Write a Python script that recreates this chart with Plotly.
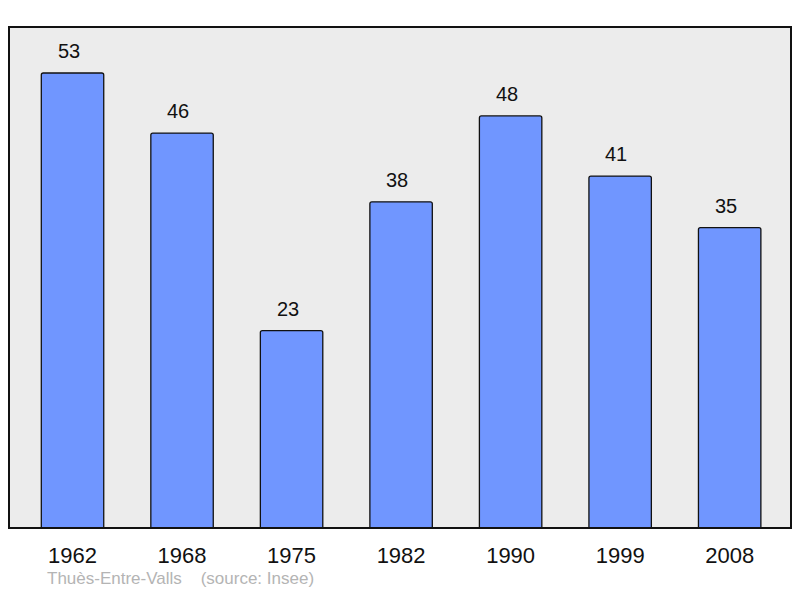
import plotly.graph_objects as go

years = ["1962", "1968", "1975", "1982", "1990", "1999", "2008"]
population = [53, 46, 23, 38, 48, 41, 35]
footer = "Thuès-Entre-Valls\u00a0\u00a0\u00a0\u00a0(source: Insee)"

fig = go.Figure()
fig.add_trace(go.Bar(
    x=list(range(len(years))), y=population,
    width=0.57,
    marker=dict(color="#7096ff", line=dict(color="#111111", width=1.3), cornerradius=2),
    hoverinfo="skip",
))
for i, v in enumerate(population):
    fig.add_annotation(x=i, y=v, text=str(v), showarrow=False, yanchor="bottom",
                       yshift=9, xshift=-4, font=dict(size=20, color="#111111"))

fig.add_annotation(xref="paper", yref="paper", x=0.046, y=-62 / 501, xanchor="left", yanchor="bottom",
                   text=footer, showarrow=False, font=dict(size=17, color="#b4b4b4"))

fig.add_shape(type="rect", xref="paper", yref="paper", x0=0, x1=1, y0=0, y1=1,
              line=dict(color="#111111", width=2), layer="above")

fig.update_layout(
    width=784, height=582,
    margin=dict(l=1, r=1, t=19, b=62),
    paper_bgcolor="white", plot_bgcolor="#ececec",
    font=dict(family="Liberation Sans, Arial, sans-serif"),
    showlegend=False,
    xaxis=dict(tickmode="array", tickvals=list(range(len(years))), ticktext=years,
               range=[-0.58, 6.56], showgrid=False, zeroline=False,
               tickfont=dict(size=22, color="#111111"), ticks="", ticklabelstandoff=12),
    yaxis=dict(range=[0, 58.36], showgrid=False, zeroline=False, showticklabels=False, ticks=""),
)
fig.write_html("out.html")
